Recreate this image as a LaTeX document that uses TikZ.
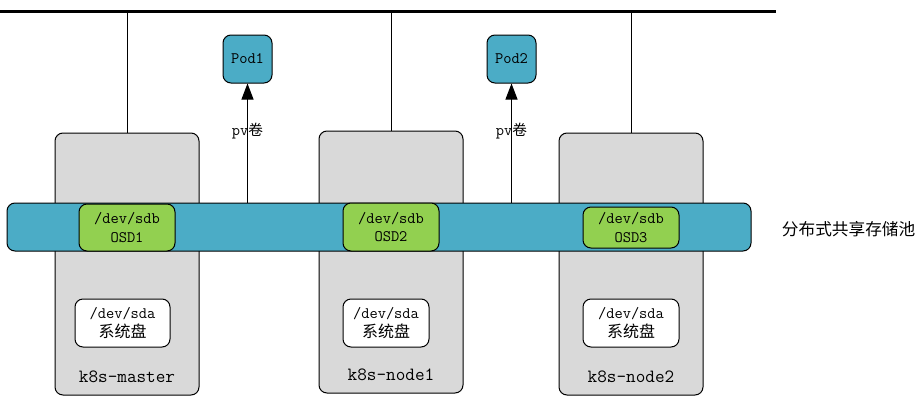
\documentclass[tikz,border=0pt]{standalone}
\usepackage{fontspec}
\newfontfamily\cjk{Noto Sans CJK SC}
\usetikzlibrary{arrows.meta}

\definecolor{hostgray}{HTML}{D9D9D9}
\definecolor{poolblue}{HTML}{4BACC6}
\definecolor{osdgreen}{HTML}{92D050}

\newcommand\px{0.75pt}

\tikzset{
  box/.style={draw,line width=0.75pt,rounded corners=6pt,inner sep=0pt,
              align=center,font=\ttfamily\fontsize{12}{14}\selectfont},
  host/.style={box,fill=hostgray,minimum width=144*\px,minimum height=262*\px},
  osd/.style={box,fill=osdgreen,minimum width=96*\px},
  sda/.style={box,fill=white,minimum width=96*\px,minimum height=48*\px},
  pod/.style={box,fill=poolblue,minimum width=49*\px,minimum height=48*\px},
  hostname/.style={font=\ttfamily\fontsize{14}{16}\selectfont},
}

\begin{document}
\begin{tikzpicture}[x=0.75pt,y=-0.75pt,line width=0.75pt]
  \useasboundingbox (0,0) rectangle (924,400);
  % network bus on top
  \coordinate (busL) at (0,11);
  \coordinate (busR) at (776,11);
  \draw[line width=2.25pt] (busL) -- (busR);
  % hosts
  \node[host]  (master) at (127,264) {};
  \node[host]  (node1)  at (391,262) {};
  \node[host]  (node2)  at (631,264) {};
  \draw (master.north) -- (master.north |- busL);
  \draw (node1.north)  -- (node1.north |- busL);
  \draw (node2.north)  -- (node2.north |- busL);
  % storage pool with the osd disks
  \node[box,fill=poolblue,minimum width=744*\px,minimum height=48*\px] (pool) at (379,227) {};
  \node[osd,minimum height=47*\px] (osd1) at (127,227.5) {/dev/sdb\\OSD1};
  \node[osd,minimum height=48*\px] (osd2) at (391,227)   {/dev/sdb\\OSD2};
  \node[osd,minimum height=41*\px] (osd3) at (631,227.5) {/dev/sdb\\OSD3};
  \node[font=\cjk\fontsize{12.5}{14}\selectfont,anchor=west] (poollabel) at (777,229) {分布式共享存储池};
  % system disks
  \node[sda,minimum width=95*\px] (sda1) at (122.5,323) {/dev/sda\\{\cjk\fontsize{12}{14}\selectfont 系统盘}};
  \node[sda,minimum width=86*\px] (sda2) at (386,323)   {/dev/sda\\{\cjk\fontsize{12}{14}\selectfont 系统盘}};
  \node[sda]                      (sda3) at (631,323)   {/dev/sda\\{\cjk\fontsize{12}{14}\selectfont 系统盘}};
  % host names
  \node[hostname] (mastername) at (127,377) {k8s-master};
  \node[hostname] (node1name)  at (391,375) {k8s-node1};
  \node[hostname] (node2name)  at (631,377) {k8s-node2};
  % pods mounting pv volumes
  \node[pod] (pod1) at (247.5,59) {Pod1};
  \node[pod] (pod2) at (511.5,59) {Pod2};
  \draw[-{Triangle[length=12pt,width=9pt]}] (pool.north -| pod1.south) -- (pod1.south)
        node[pos=0.6,font=\ttfamily\fontsize{12}{14}\selectfont] {pv{\cjk\fontsize{11}{14}\selectfont 卷}};
  \draw[-{Triangle[length=12pt,width=9pt]}] (pool.north -| pod2.south) -- (pod2.south)
        node[pos=0.6,font=\ttfamily\fontsize{12}{14}\selectfont] {pv{\cjk\fontsize{11}{14}\selectfont 卷}};
\end{tikzpicture}
\end{document}
